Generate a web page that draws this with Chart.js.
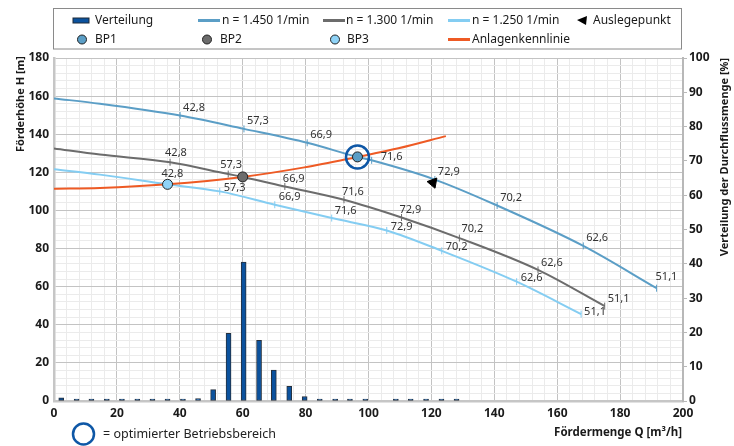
<!DOCTYPE html>
<html>
<head>
<meta charset="utf-8">
<script src="https://cdn.jsdelivr.net/npm/chart.js@4.4.0/dist/chart.umd.min.js"></script>
<style>
  body { margin: 0; background: #fff; }
  #wrap { width: 734px; height: 446px; }
</style>
</head>
<body>
<div id="wrap"><canvas id="pumpChart" width="734" height="446"></canvas></div>
<script>
'use strict';

// Verteilung der Durchflussmenge (bars, right axis in %)
var barFlow = [2.3, 7.2, 11.9, 16.8, 21.6, 26.5, 31.3, 36.1, 41.0, 45.8, 50.6, 55.5, 60.3,
               65.2, 69.9, 74.8, 79.7, 84.5, 89.4, 94.1, 99.0, 108.7, 113.4, 118.3, 123.2, 128.0];
var barShare = [0.9, 0.2, 0.2, 0.2, 0.2, 0.2, 0.2, 0.2, 0.4, 0.7, 3.3, 19.7, 40.5,
                17.7, 9.0, 4.3, 1.3, 0.5, 0.2, 0.2, 0.2, 0.2, 0.2, 0.2, 0.2, 0.2];

// pump curves: flow Q [m3/h], head H [m], efficiency labels at the tick marks
var flow1450 = [0, 14.6, 40.1, 60.4, 80.5, 96.5, 101.0, 121.1, 140.9, 168.3, 191.6];
var head1450 = [158.8, 156.0, 149.8, 142.8, 135.5, 128.1, 126.3, 116.2, 102.6, 81.4, 59.2];
var eta1450  = [null, null, '42,8', '57,3', '66,9', null, '71,6', '72,9', '70,2', '62,6', '51,1'];

var flow1300 = [0, 14.6, 36.9, 55.4, 60.0, 73.4, 92.2, 110.5, 128.9, 153.9, 175.1];
var head1300 = [132.5, 129.3, 125.3, 119.1, 117.6, 112.6, 105.6, 96.3, 85.5, 68.8, 49.8];
var eta1300  = [null, null, '42,8', '57,3', null, '66,9', '71,6', '72,9', '70,2', '62,6', '51,1'];

var flow1250 = [0, 14.6, 36.1, 52.7, 70.2, 88.3, 105.8, 123.3, 147.1, 167.6];
var head1250 = [121.6, 118.8, 113.7, 110.0, 103.0, 96.0, 89.5, 78.8, 62.6, 45.6];
var eta1250  = [null, null, '42,8', '57,3', '66,9', '71,6', '72,9', '70,2', '62,6', '51,1'];

// Anlagenkennlinie
var flowSystem = [0, 14.6, 36.1, 60.0, 79.6, 96.5, 109.5, 124.6];
var headSystem = [111.4, 111.8, 113.7, 117.6, 122.6, 128.1, 132.6, 139.0];

// Betriebspunkte BP1..BP3 and Auslegepunkt
var bpFlow = [96.5, 60.0, 36.1];
var bpHead = [128.1, 117.6, 113.7];
var designFlow = [120.5];
var designHead = [114.6];

var xTicks = [0, 20, 40, 60, 80, 100, 120, 140, 160, 180, 200];
var yTicks = [0, 20, 40, 60, 80, 100, 120, 140, 160, 180];
var y1Ticks = [0, 10, 20, 30, 40, 50, 60, 70, 80, 90, 100];

var C_1450 = '#5b9ec6';
var C_1300 = '#6c6c6c';
var C_1250 = '#84cdf2';
var C_SYS = '#ee5a24';
var C_BAR = '#0b529e';
var C_RING = '#0e57a6';
var FONT = "'Noto Sans', sans-serif";

function pts(xs, ys) {
    return xs.map(function (x, i) { return {x: x, y: ys[i]}; });
}

function curve(label, xs, ys, eta, color, dx, dy, shift) {
    return {
        type: 'line',
        label: label,
        data: pts(xs, ys),
        etaLabels: eta,
        labelDx: dx,
        labelDy: dy,
        labelShift: shift,
        borderColor: color,
        borderWidth: 2,
        cubicInterpolationMode: 'monotone',
        fill: false,
        pointStyle: 'line',
        pointRotation: 90,
        pointRadius: function (ctx) { return eta[ctx.dataIndex] ? 3.5 : 0; },
        pointBorderColor: color,
        pointBorderWidth: 1,
        order: 5
    };
}

var gridColor = function (ctx) {
    return ctx.tick && ctx.tick.value % 20 === 0 ? '#c3c3c3' : '#ebebeb';
};

// efficiency numbers beside the tick marks
var etaLabelPlugin = {
    id: 'etaLabels',
    afterDatasetsDraw: function (chart) {
        var ctx = chart.ctx;
        ctx.save();
        ctx.font = '11px ' + FONT;
        ctx.fillStyle = '#333';
        ctx.textBaseline = 'middle';
        ctx.textAlign = 'left';
        chart.data.datasets.forEach(function (ds, di) {
            if (!ds.etaLabels) return;
            var meta = chart.getDatasetMeta(di);
            ds.etaLabels.forEach(function (txt, i) {
                if (!txt) return;
                var el = meta.data[i];
                var dx = ds.labelDx, dy = ds.labelDy;
                var sp = ds.labelShift && ds.labelShift[i];
                if (sp) { dx = sp[0]; dy = sp[1]; }
                ctx.fillText(txt, el.x + dx, el.y + dy);
            });
        });
        ctx.restore();
    }
};

// legend box, axis titles and the ring note below
var decorPlugin = {
    id: 'decor',
    afterDraw: function (chart) {
        var ctx = chart.ctx;
        ctx.save();

        ctx.fillStyle = '#fff';
        ctx.fillRect(53.5, 8.5, 628, 40.5);
        ctx.strokeStyle = '#8a8a8a';
        ctx.lineWidth = 1;
        ctx.strokeRect(53.5, 8.5, 628, 40.5);

        var r1 = 20.5, r2 = 39.5;
        ctx.font = '12px ' + FONT;
        ctx.textBaseline = 'middle';
        ctx.textAlign = 'left';

        ctx.fillStyle = C_BAR;
        ctx.strokeStyle = '#1e2a38';
        ctx.fillRect(73, r1 - 2.5, 16, 5);
        ctx.strokeRect(73, r1 - 2.5, 16, 5);

        function legLine(x, y, c) {
            ctx.strokeStyle = c;
            ctx.lineWidth = 3;
            ctx.beginPath();
            ctx.moveTo(x, y);
            ctx.lineTo(x + 22, y);
            ctx.stroke();
        }
        legLine(198, r1, C_1450);
        legLine(323, r1, C_1300);
        legLine(448, r1, C_1250);
        legLine(448, r2, C_SYS);

        ctx.fillStyle = '#000';
        ctx.beginPath();
        ctx.moveTo(577, r1 - 0.5);
        ctx.lineTo(587, r1 - 4.5);
        ctx.lineTo(586, r1 + 4.5);
        ctx.closePath();
        ctx.fill();

        function legDot(x, y, c) {
            ctx.fillStyle = c;
            ctx.strokeStyle = '#222';
            ctx.lineWidth = 1;
            ctx.beginPath();
            ctx.arc(x, y, 4.5, 0, Math.PI * 2);
            ctx.fill();
            ctx.stroke();
        }
        legDot(82, r2, C_1450);
        legDot(207, r2, C_1300);
        legDot(335, r2, '#8fd3f7');

        ctx.fillStyle = '#1a1a1a';
        ctx.fillText('Verteilung', 95, r1);
        ctx.fillText('n = 1.450 1/min', 222, r1);
        ctx.fillText('n = 1.300 1/min', 346, r1);
        ctx.fillText('n = 1.250 1/min', 472, r1);
        ctx.fillText('Auslegepunkt', 593, r1);
        ctx.fillText('BP1', 95, r2);
        ctx.fillText('BP2', 220, r2);
        ctx.fillText('BP3', 347, r2);
        ctx.fillText('Anlagenkennlinie', 472, r2);

        // axis titles
        ctx.font = 'bold 11px ' + FONT;
        ctx.textAlign = 'center';
        ctx.save();
        ctx.translate(20.5, 104);
        ctx.rotate(-Math.PI / 2);
        ctx.fillText('Förderhöhe H [m]', 0, 0);
        ctx.restore();
        ctx.save();
        ctx.translate(725, 157);
        ctx.rotate(-Math.PI / 2);
        ctx.fillText('Verteilung der Durchflussmenge [%]', 0, 0);
        ctx.restore();
        ctx.textAlign = 'right';
        ctx.font = 'bold 11.5px ' + FONT;
        ctx.fillText('Fördermenge Q [m³/h]', 682, 433);

        // optimierter Betriebsbereich note
        ctx.strokeStyle = C_RING;
        ctx.lineWidth = 2.5;
        ctx.beginPath();
        ctx.arc(83.5, 434, 10.5, 0, Math.PI * 2);
        ctx.stroke();
        ctx.textAlign = 'left';
        ctx.font = '12.5px ' + FONT;
        ctx.fillStyle = '#222';
        ctx.fillText('= optimierter Betriebsbereich', 103, 434);

        ctx.restore();
    }
};

var tickFont = {family: FONT, size: 12, weight: 'bold'};

var pumpChart = new Chart(document.getElementById('pumpChart'), {
    data: {
        datasets: [
            {
                type: 'bar',
                label: 'Verteilung',
                data: pts(barFlow, barShare),
                yAxisID: 'y1',
                backgroundColor: C_BAR,
                borderColor: '#27313d',
                borderWidth: 1,
                borderSkipped: false,
                barThickness: 5,
                minBarLength: 2,
                order: 10
            },
            curve('n = 1.450 1/min', flow1450, head1450, eta1450, C_1450, 3, -8,
                  {6: [9, -3], 10: [-1, -11]}),
            curve('n = 1.300 1/min', flow1300, head1300, eta1300, C_1300, -2, -8,
                  {2: [-5, -9], 3: [-8, -9], 8: [2, -9], 9: [3, -7], 10: [3, -7]}),
            curve('n = 1.250 1/min', flow1250, head1250, eta1250, C_1250, 4, -4,
                  {2: [-6, -10], 4: [4, -8], 5: [3, -7], 9: [3, -2]}),
            {
                type: 'line',
                label: 'Anlagenkennlinie',
                data: pts(flowSystem, headSystem),
                borderColor: C_SYS,
                borderWidth: 2,
                cubicInterpolationMode: 'monotone',
                pointRadius: 0,
                fill: false,
                order: 4
            },
            {
                type: 'line',
                label: 'BP',
                data: pts(bpFlow, bpHead),
                showLine: false,
                pointRadius: 5,
                pointBackgroundColor: [C_1450, C_1300, '#8fd3f7'],
                pointBorderColor: '#222',
                pointBorderWidth: 1,
                order: 2
            },
            {
                type: 'line',
                label: 'Auslegepunkt',
                data: pts(designFlow, designHead),
                showLine: false,
                pointStyle: 'triangle',
                pointRotation: -80,
                pointRadius: 6,
                pointBackgroundColor: '#000',
                pointBorderColor: '#000',
                order: 1
            },
            {
                type: 'line',
                label: 'optimierter Betriebsbereich',
                data: pts([bpFlow[0]], [bpHead[0]]),
                showLine: false,
                pointRadius: 11.5,
                pointBackgroundColor: 'rgba(0,0,0,0)',
                pointBorderColor: C_RING,
                pointBorderWidth: 2.5,
                order: 0
            }
        ]
    },
    options: {
        responsive: false,
        animation: false,
        layout: {padding: {top: 58, left: 0, right: 0, bottom: 0}},
        plugins: {legend: {display: false}, tooltip: {enabled: false}},
        scales: {
            x: {
                type: 'linear',
                min: 0, max: 200,
                offset: false,
                afterFit: function (s) { s.height = 45; },
                ticks: {
                    stepSize: 4, maxTicksLimit: 100, autoSkip: false, maxRotation: 0,
                    padding: 5, color: '#1a1a1a', font: tickFont,
                    callback: function (v) { return xTicks.indexOf(v) >= 0 ? v : ''; }
                },
                grid: {color: gridColor, drawTicks: false, offset: false},
                border: {color: '#c6c6c6', width: 2.5}
            },
            y: {
                type: 'linear', position: 'left',
                min: 0, max: 180,
                afterFit: function (s) { s.width = 54; },
                ticks: {
                    stepSize: 4, maxTicksLimit: 100, autoSkip: false,
                    padding: 5, color: '#1a1a1a', font: tickFont,
                    callback: function (v) { return yTicks.indexOf(v) >= 0 ? v : ''; }
                },
                grid: {color: gridColor, drawTicks: false},
                border: {color: '#c6c6c6', width: 2.5}
            },
            y1: {
                type: 'linear', position: 'right',
                min: 0, max: 100,
                afterFit: function (s) { s.width = 51; },
                ticks: {
                    stepSize: 10, autoSkip: false, padding: 2,
                    color: '#1a1a1a', font: tickFont,
                    callback: function (v) { return y1Ticks.indexOf(v) >= 0 ? v : ''; }
                },
                grid: {drawOnChartArea: false, tickLength: 4, color: '#b8b8b8'},
                border: {color: '#b8b8b8', width: 2}
            }
        }
    },
    plugins: [etaLabelPlugin, decorPlugin]
});
</script>
</body>
</html>
